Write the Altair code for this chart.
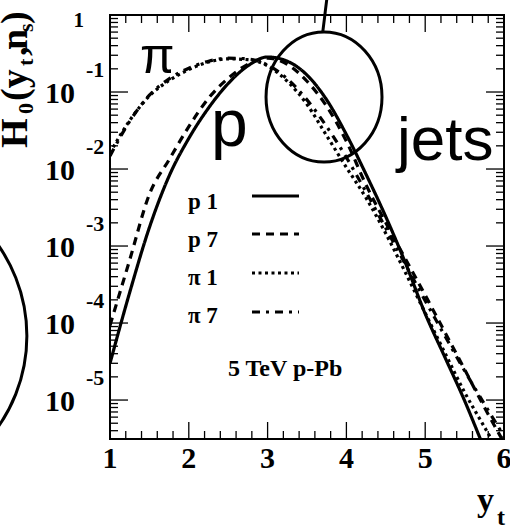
import altair as alt
import pandas as pd

# ---- curve values: H0(yt, ns) for protons and pions, ns = 1 and 7 ----
yt = [1.0, 1.25, 1.5, 1.75, 2.0, 2.25, 2.5, 2.75, 3.0, 3.25, 3.5,
      3.75, 4.0, 4.25, 4.5, 4.75, 5.0, 5.25, 5.5, 5.75, 6.0]

h_p1 = [3.0e-5, 2.5e-4, 1.74e-3, 8.1e-3, 2.5e-2, 6.2e-2, 0.129, 0.219, 0.285, 0.251, 0.166,
        0.079, 0.028, 8.5e-3, 2.4e-3, 6.0e-4, 1.32e-4, 3.6e-5, 9.8e-6, 2.34e-6, 5.6e-7]
h_p7 = [9.3e-5, 6.6e-4, 4.7e-3, 1.32e-2, 3.55e-2, 8.3e-2, 0.151, 0.229, 0.275, 0.229, 0.138,
        0.065, 0.0229, 6.2e-3, 2.0e-3, 6.8e-4, 2.3e-4, 7.6e-5, 2.5e-5, 8.1e-6, 2.8e-6]
h_pi1 = [0.0162, 0.0427, 0.089, 0.141, 0.195, 0.245, 0.269, 0.263, 0.219, 0.138, 0.069,
         0.027, 0.0105, 4.2e-3, 1.45e-3, 4.5e-4, 1.35e-4, 4.1e-5, 1.26e-5, 4.5e-6, 1.6e-6]
h_pi7 = [0.0148, 0.0417, 0.091, 0.148, 0.204, 0.251, 0.275, 0.269, 0.224, 0.148, 0.079,
         0.0355, 0.0141, 5.0e-3, 1.7e-3, 5.75e-4, 1.95e-4, 6.8e-5, 2.4e-5, 8.9e-6, 3.4e-6]

series_names = ["p 1", "p 7", "π 1", "π 7"]
series_values = [h_p1, h_p7, h_pi1, h_pi7]
series_dash = [[1, 0], [8, 6], [3, 3.5], [8, 6, 3, 6]]

# ---- axis ticks and labels ----
x_major = [1, 2, 3, 4, 5, 6]
x_labels = ["1", "2", "3", "4", "5", "6"]
x_minor = [1.2, 1.4, 1.6, 1.8, 2.2, 2.4, 2.6, 2.8, 3.2, 3.4, 3.6, 3.8,
           4.2, 4.4, 4.6, 4.8, 5.2, 5.4, 5.6, 5.8]
y_decades = [1e-5, 1e-4, 1e-3, 1e-2, 1e-1]
y_exponents = ["-5", "-4", "-3", "-2", "-1"]
y_top = [1.0]
y_minor = [m * d for d in [1e-6, 1e-5, 1e-4, 1e-3, 1e-2, 1e-1]
           for m in [2, 3, 4, 5, 6, 7, 8, 9] if m * d >= 3.12e-6]

W, H = 394, 424
SERIF = "Liberation Serif"
SANS = "Liberation Sans"

xs = alt.Scale(domain=[1, 6], nice=False, zero=False)
ys = alt.Scale(type="log", domain=[3.12e-6, 1.0], nice=False)

rows = []
for name, vals in zip(series_names, series_values):
    for x, v in zip(yt, vals):
        rows.append({"yt": x, "H": v, "series": name})
curves_df = pd.DataFrame(rows)

layers = []

# curves
for i, (name, dash) in enumerate(zip(series_names, series_dash)):
    enc_x = alt.X("yt:Q", scale=xs,
                  axis=alt.Axis(labels=False, ticks=False, title=None, grid=False,
                                domainWidth=3, domainColor="black") if i == 0 else None)
    enc_y = alt.Y("H:Q", scale=ys,
                  axis=alt.Axis(labels=False, ticks=False, title=None, grid=False,
                                domainWidth=3, domainColor="black") if i == 0 else None)
    layers.append(
        alt.Chart(curves_df[curves_df.series == name]).mark_line(
            color="black", strokeWidth=3.2, strokeDash=dash, clip=True,
            interpolate="monotone", strokeCap="butt"
        ).encode(x=enc_x, y=enc_y)
    )

# ticks on all four sides, pointing inward
def xticks(vals, length):
    df = pd.DataFrame({"v": vals})
    bottom = alt.Chart(df).mark_rule(color="black", strokeWidth=1.3).encode(
        x=alt.X("v:Q", scale=xs, axis=None), y=alt.value(H), y2=alt.value(H - length))
    top = alt.Chart(df).mark_rule(color="black", strokeWidth=1.3).encode(
        x=alt.X("v:Q", scale=xs, axis=None), y=alt.value(0), y2=alt.value(length))
    return [bottom, top]

def yticks(vals, length):
    df = pd.DataFrame({"v": vals})
    left = alt.Chart(df).mark_rule(color="black", strokeWidth=1.3).encode(
        y=alt.Y("v:Q", scale=ys, axis=None), x=alt.value(0), x2=alt.value(length))
    right = alt.Chart(df).mark_rule(color="black", strokeWidth=1.3).encode(
        y=alt.Y("v:Q", scale=ys, axis=None), x=alt.value(W), x2=alt.value(W - length))
    return [left, right]

layers += xticks(x_major, 17) + xticks(x_minor, 8)
layers += yticks(y_decades + y_top, 18) + yticks(y_minor, 8)

# x tick labels
layers.append(
    alt.Chart(pd.DataFrame({"v": x_major, "t": x_labels})).mark_text(
        font=SERIF, fontWeight="bold", fontSize=30, align="center", baseline="alphabetic",
        color="black"
    ).encode(x=alt.X("v:Q", scale=xs, axis=None), y=alt.value(453), text="t:N")
)

# y tick labels: "10" with superscript exponent, "1" at the top
ydf = pd.DataFrame({"v": y_decades, "e": y_exponents})
layers.append(
    alt.Chart(ydf).mark_text(
        font=SERIF, fontWeight="bold", fontSize=30, align="right", baseline="alphabetic",
        dy=10.5, color="black"
    ).encode(y=alt.Y("v:Q", scale=ys, axis=None), x=alt.value(-35), text=alt.value("10"))
)
layers.append(
    alt.Chart(ydf).mark_text(
        font=SERIF, fontWeight="bold", fontSize=22, align="left", baseline="alphabetic",
        dy=-15, color="black"
    ).encode(y=alt.Y("v:Q", scale=ys, axis=None), x=alt.value(-24), text="e:N")
)
layers.append(
    alt.Chart(pd.DataFrame({"v": y_top})).mark_text(
        font=SERIF, fontWeight="bold", fontSize=21, align="right", baseline="alphabetic",
        dy=12, color="black"
    ).encode(y=alt.Y("v:Q", scale=ys, axis=None), x=alt.value(-26), text=alt.value("1"))
)

# helper for free-standing text
def label(text, x, y, size, font=SERIF, weight="bold", angle=0, align="left"):
    return alt.Chart(pd.DataFrame({"a": [0]})).mark_text(
        text=text, font=font, fontWeight=weight, fontSize=size, align=align,
        baseline="alphabetic", angle=angle, color="black"
    ).encode(x=alt.value(x), y=alt.value(y))

# axis titles
layers.append(label("y", 367, 496, 34))
layers.append(label("t", 387, 510, 24))
for txt, bx, start, size in [("H", -83, 133, 38), ("0", -77, 99, 22), ("(y", -83, 86, 38),
                             ("t", -77, 51, 22), (",", -83, 41, 38), ("n", -83, 35, 38),
                             ("s", -77, 17, 22), (")", -83, 9, 38)]:
    layers.append(label(txt, bx, start, size, angle=270))

# legend
legend_y_text = [194, 232, 270, 308]
legend_y_line = [181, 219, 258, 297]
for name, dash, ty, ly in zip(series_names, series_dash, legend_y_text, legend_y_line):
    layers.append(label(name, 78, ty, 23))
    layers.append(
        alt.Chart(pd.DataFrame({"a": [0]})).mark_rule(
            color="black", strokeWidth=3.2, strokeDash=dash, strokeCap="butt"
        ).encode(x=alt.value(142), x2=alt.value(189), y=alt.value(ly))
    )
layers.append(label("5 TeV p-Pb", 118, 361, 24))

# large annotations
layers.append(label("π", 30, 58, 50, font=SANS, weight="normal"))
layers.append(label("p", 101, 131, 66, font=SANS, weight="normal"))
layers.append(label("jets", 287, 145, 62, font=SANS, weight="normal"))

# circled regions
ellipse_path = "M-0.892,0A0.892,1,0,1,0,0.892,0A0.892,1,0,1,0,-0.892,0Z"
ring_df = pd.DataFrame({"x": [3.716], "y": [0.086]})
layers.append(
    alt.Chart(ring_df).mark_point(
        shape=ellipse_path, size=16900, filled=False, strokeWidth=3, color="black", opacity=1
    ).encode(x=alt.X("x:Q", scale=xs, axis=None), y=alt.Y("y:Q", scale=ys, axis=None))
)
stem_df = pd.DataFrame({"x": [3.70], "x2": [3.75], "y": [0.60], "y2": [1.57]})
layers.append(
    alt.Chart(stem_df).mark_rule(color="black", strokeWidth=3).encode(
        x=alt.X("x:Q", scale=xs, axis=None), x2="x2:Q",
        y=alt.Y("y:Q", scale=ys, axis=None), y2="y2:Q")
)
left_ring_df = pd.DataFrame({"x": [-2.06], "y": [6.8e-5]})
layers.append(
    alt.Chart(left_ring_df).mark_point(
        shape="circle", size=99856, filled=False, strokeWidth=3, color="black", opacity=1
    ).encode(x=alt.X("x:Q", scale=xs, axis=None), y=alt.Y("y:Q", scale=ys, axis=None))
)

chart = alt.layer(*layers).properties(
    width=W, height=H,
    padding={"left": 110, "top": 15, "right": 6, "bottom": 89},
    autosize=alt.AutoSizeParams(type="none"),
    background="white",
).configure_view(stroke="black", strokeWidth=2)

chart.save("out.html", embed_options={"renderer": "svg", "actions": False})
